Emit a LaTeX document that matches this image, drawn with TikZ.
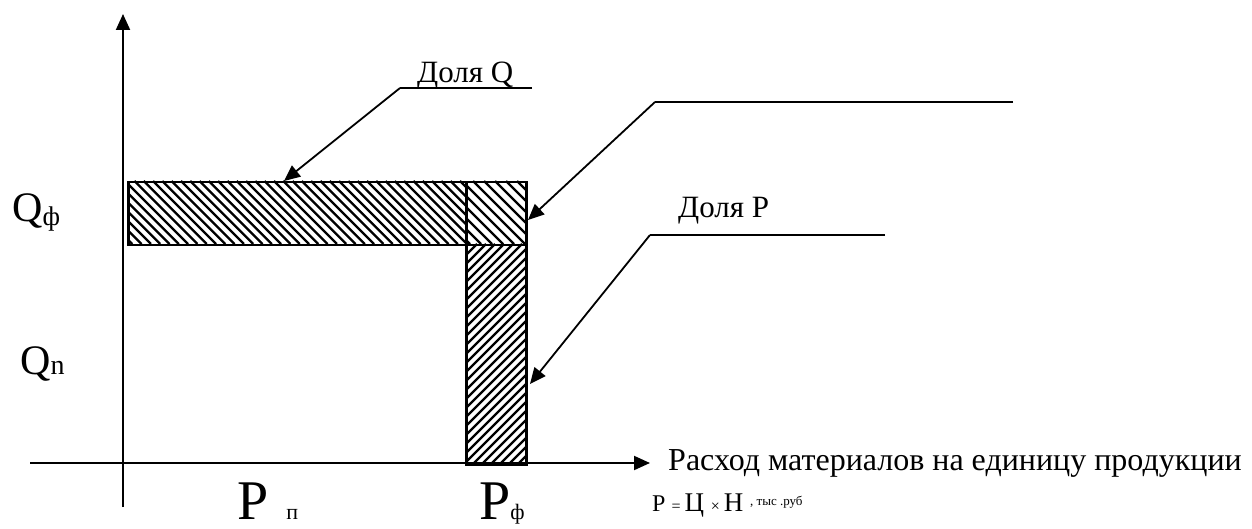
\documentclass[tikz,border=0pt]{standalone}
\usepackage{fontspec}
\setmainfont{Liberation Serif}
\usetikzlibrary{arrows.meta}
\begin{document}
\begin{tikzpicture}[x=1pt,y=-1pt,
  axis/.style={line width=2pt,-{Triangle[length=16pt,width=14pt]}},
  leader/.style={line width=1.8pt,-{Triangle[length=16pt,width=14pt]}},
  shelf/.style={line width=1.8pt},
  lbl/.style={inner sep=0pt,anchor=base west},
  hatch/.style={line width=2.3pt},
  barbox/.style={draw,line width=2.5pt}]
\useasboundingbox (0,0) rectangle (1252,529);
% axes
\coordinate (yb) at (123,507);
\coordinate (yt) at (123,14);
\coordinate (xl) at (30,463);
\coordinate (xr) at (650,463);
\draw[axis] (yb) -- (yt);
\draw[axis] (xl) -- (xr);
% hatching
\begin{scope}
  \clip (127,181) rectangle (465,244);
  \foreach \x in {60,69.3,...,475} \draw[hatch] (\x,181) -- ++(63,63);
\end{scope}
\begin{scope}
  \clip (465,181) rectangle (525,244);
  \foreach \x in {396,407,...,535} \draw[hatch] (\x,181) -- ++(63,63);
\end{scope}
\begin{scope}
  \clip (465,244) rectangle (525,463);
  \foreach \x in {240,249,...,535} \draw[hatch] (\x,463) -- ++(219,-219);
\end{scope}
% bars
\node[barbox,inner sep=0pt,minimum width=338pt,minimum height=63pt,anchor=north west] (qbar) at (127,181) {};
\node[barbox,inner sep=0pt,minimum width=60pt,minimum height=63pt,anchor=north west] (sq) at (465,181) {};
\node[barbox,inner sep=0pt,minimum width=60pt,minimum height=219pt,anchor=north west] (pbar) at (465,244) {};
\coordinate (qtip) at (284,181);
\coordinate (sqtip) at (528,220);
\coordinate (ptip) at (530,384);
% leaders
\coordinate (q1) at (400,88);
\coordinate (q2) at (532,88);
\draw[shelf] (q2) -- (q1);
\draw[leader] (q1) -- (qtip);
\node[lbl] (dq) at (417,83) {\fontsize{31pt}{34pt}\selectfont Доля Q};
\coordinate (s1) at (655,102);
\coordinate (s2) at (1013,102);
\draw[shelf] (s2) -- (s1);
\draw[leader] (s1) -- (sqtip);
\coordinate (p1) at (650,235);
\coordinate (p2) at (885,235);
\draw[shelf] (p2) -- (p1);
\draw[leader] (p1) -- (ptip);
\node[lbl] (dp) at (678,218) {\fontsize{31pt}{34pt}\selectfont Доля P};
% axis labels
\node[lbl] (qf) at (12,222) {\fontsize{42pt}{44pt}\selectfont Q\raisebox{-4pt}{\fontsize{27pt}{28pt}\selectfont ф}};
\node[lbl] (qn) at (20,374) {\fontsize{42pt}{44pt}\selectfont Q\fontsize{28pt}{30pt}\selectfont n};
\node[lbl] (pp) at (237,519) {\fontsize{56pt}{58pt}\selectfont P\hspace{18pt}\fontsize{22pt}{24pt}\selectfont п};
\node[lbl] (pf) at (479,519) {\fontsize{56pt}{58pt}\selectfont P\fontsize{22pt}{24pt}\selectfont ф};
\node[lbl] (rash) at (668,470) {\fontsize{32pt}{34pt}\selectfont Расход материалов на единицу продукции};
\node[lbl] (form) at (652,511) {\fontsize{24pt}{26pt}\selectfont P \fontsize{16pt}{17pt}\selectfont = \fontsize{27pt}{28pt}\selectfont Ц \fontsize{16pt}{17pt}\selectfont × \fontsize{27pt}{28pt}\selectfont Н \raisebox{6pt}{\fontsize{13pt}{14pt}\selectfont , тыс .руб}};
\end{tikzpicture}
\end{document}
